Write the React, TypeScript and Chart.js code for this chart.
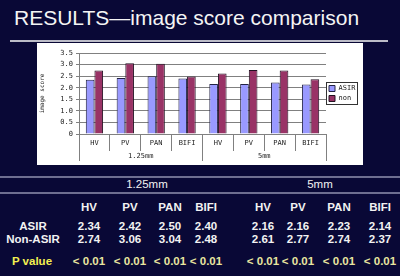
import React, { useEffect, useRef } from "react";
import { Chart, registerables } from "chart.js";

Chart.register(...registerables);

const categories = ["HV", "PV", "PAN", "BIFI", "HV", "PV", "PAN", "BIFI"];
const groups = ["1.25mm", "5mm"];
const asirValues = [2.34, 2.42, 2.5, 2.4, 2.16, 2.16, 2.23, 2.14];
const nonValues = [2.74, 3.06, 3.04, 2.48, 2.61, 2.77, 2.74, 2.37];
const pValues = ["< 0.01", "< 0.01", "< 0.01", "< 0.01", "< 0.01", "< 0.01", "< 0.01", "< 0.01"];
const seriesNames = ["ASIR", "non"];
const rowLabels = ["ASIR", "Non-ASIR", "P value"];
const titleText = "RESULTS\u2014image score comparison";
const yAxisTitle = "image score";

const colX = [89, 130, 170, 206, 263, 298, 339, 380];
const groupX = [147, 320];

const MONO = "'DejaVu Sans Mono', 'Liberation Mono', monospace";
const SANS = "'Liberation Sans', Arial, sans-serif";

const legendBorder = {
  id: "legendBorder",
  afterDraw(chart: any) {
    const lg = chart.legend;
    if (!lg || !lg.legendHitBoxes || !lg.legendHitBoxes.length) return;
    let l = Infinity, t = Infinity, r = -Infinity, b = -Infinity;
    lg.legendHitBoxes.forEach((h: any) => {
      l = Math.min(l, h.left);
      t = Math.min(t, h.top);
      r = Math.max(r, h.left + h.width);
      b = Math.max(b, h.top + h.height);
    });
    const ctx = chart.ctx;
    ctx.save();
    ctx.strokeStyle = "#333";
    ctx.lineWidth = 1;
    ctx.strokeRect(Math.round(l - 3) + 0.5, Math.round(t - 3) + 0.5, Math.round(r - l + 5), Math.round(b - t + 5));
    ctx.restore();
  },
};

function BarChart() {
  const ref = useRef<HTMLCanvasElement | null>(null);
  useEffect(() => {
    if (!ref.current) return;
    const chart = new Chart(ref.current, {
      type: "bar",
      data: {
        labels: categories,
        datasets: [
          {
            label: seriesNames[0],
            data: asirValues,
            backgroundColor: "#9999ff",
            borderColor: "#222244",
            borderWidth: 1,
            barPercentage: 1,
            categoryPercentage: 0.56,
          },
          {
            label: seriesNames[1],
            data: nonValues,
            backgroundColor: "#993366",
            borderColor: "#221122",
            borderWidth: 1,
            barPercentage: 1,
            categoryPercentage: 0.56,
          },
        ],
      },
      options: {
        responsive: false,
        animation: false,
        layout: { padding: { top: 10, right: 0, bottom: 2, left: 0 } },
        plugins: {
          legend: {
            position: "right",
            fullSize: false,
            maxWidth: 37,
            labels: {
              boxWidth: 6,
              boxHeight: 6,
              padding: 3,
              color: "#222",
              font: { family: MONO, size: 7 },
            },
          },
          tooltip: { enabled: false },
        },
        scales: {
          x: {
            grid: { offset: true, drawOnChartArea: false, tickLength: 17, color: "#808080" },
            border: { color: "#808080" },
            ticks: { padding: -12, color: "#222", font: { family: MONO, size: 7 }, maxRotation: 0, autoSkip: false },
            afterFit(scale: any) {
              scale.height = 17;
            },
          },
          x2: {
            type: "category",
            labels: groups,
            position: "bottom",
            offset: true,
            grid: { offset: true, drawOnChartArea: false, tickLength: 10, color: "#808080" },
            border: { display: false },
            ticks: { padding: -9, color: "#222", font: { family: MONO, size: 7 }, maxRotation: 0 },
            afterFit(scale: any) {
              scale.height = 12;
            },
          },
          y: {
            min: 0,
            max: 3.5,
            ticks: { stepSize: 0.5, padding: 3, color: "#222", font: { family: MONO, size: 7 } },
            grid: { color: "#808080", tickLength: 3 },
            border: { color: "#808080" },
            title: { display: true, text: yAxisTitle, color: "#222", font: { family: MONO, size: 6 }, padding: 2 },
            afterFit(scale: any) {
              scale.width = 42;
            },
          },
        },
      },
      plugins: [legendBorder],
    });
    return () => chart.destroy();
  }, []);
  return (
    <canvas
      ref={ref}
      width={326}
      height={122}
      style={{ position: "absolute", left: 37, top: 43, width: 326, height: 122, background: "#ffffff" }}
    />
  );
}

function Cell(props: { x: number; y: number; text: string; color?: string; bold?: boolean; size?: number }) {
  const size = props.size || 11.5;
  return (
    <span
      style={{
        position: "absolute",
        left: props.x,
        top: props.y,
        transform: "translate(-50%, -50%)",
        whiteSpace: "nowrap",
        fontFamily: SANS,
        fontSize: size,
        lineHeight: 1,
        fontWeight: props.bold ? "bold" : "normal",
        color: props.color || "#f2f2f2",
      }}
    >
      {props.text}
    </span>
  );
}

export default function App() {
  return (
    <div
      style={{
        position: "fixed",
        left: 0,
        top: 0,
        width: 400,
        height: 276,
        background: "#090836",
        overflow: "hidden",
      }}
    >
      <div
        style={{
          position: "absolute",
          left: 14,
          top: 8,
          fontFamily: SANS,
          fontSize: 21,
          lineHeight: "20px",
          color: "#f4f4f4",
          whiteSpace: "nowrap",
        }}
      >
        {titleText}
      </div>
      <div style={{ position: "absolute", left: 10, top: 40, width: 378, height: 2, background: "#bcbcc8" }} />
      <BarChart />
      <div style={{ position: "absolute", left: 0, top: 176, width: 400, height: 2, background: "#6e6e90" }} />
      <div style={{ position: "absolute", left: 0, top: 192, width: 400, height: 2, background: "#6e6e90" }} />
      {groups.map((g, i) => (
        <Cell key={"g" + i} x={groupX[i]} y={185} text={g} />
      ))}
      {categories.map((c, i) => (
        <Cell key={"c" + i} x={colX[i]} y={208} text={c} bold />
      ))}
      <Cell x={33} y={227} text={rowLabels[0]} bold />
      <Cell x={33} y={240} text={rowLabels[1]} bold />
      <Cell x={32} y={262} text={rowLabels[2]} bold color="#f4f050" />
      {asirValues.map((v, i) => (
        <Cell key={"a" + i} x={colX[i]} y={227} text={v.toFixed(2)} bold />
      ))}
      {nonValues.map((v, i) => (
        <Cell key={"n" + i} x={colX[i]} y={240} text={v.toFixed(2)} bold />
      ))}
      {pValues.map((p, i) => (
        <Cell key={"p" + i} x={colX[i]} y={262} text={p} bold color="#e8e6a0" />
      ))}
    </div>
  );
}
